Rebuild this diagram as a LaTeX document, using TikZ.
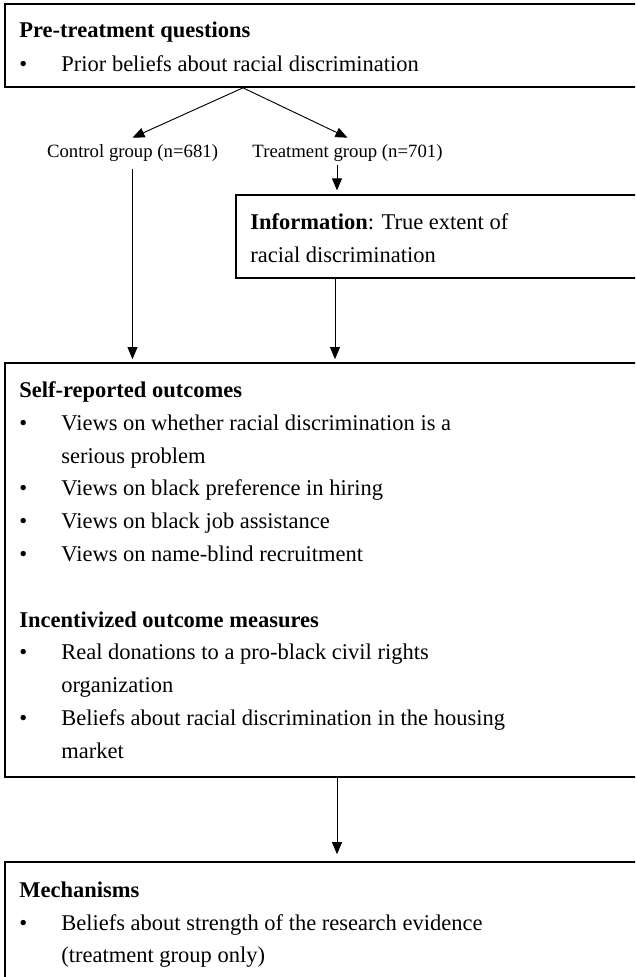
\documentclass[tikz,border=0pt]{standalone}
\usepackage{fontspec}
\setmainfont{Liberation Serif}
\usetikzlibrary{arrows.meta,fit}
\begin{document}
\begin{tikzpicture}[x=0.53333pt,y=-0.53333pt,
  box/.style={draw, line width=0.9pt, inner sep=0pt},
  txt/.style={anchor=base west, inner sep=0pt, font=\fontsize{12pt}{14pt}\selectfont},
  hd/.style={anchor=base west, inner sep=0pt, font=\fontsize{12pt}{14pt}\selectfont\bfseries},
  lbl/.style={anchor=base, inner sep=3.7pt, font=\fontsize{10pt}{12pt}\selectfont},
  arr/.style={-{Triangle[length=6.4pt,width=5.3pt]}, line width=0.5pt}
]
\useasboundingbox (0,0) rectangle (635,977);
\clip (0,0) rectangle (635,977);

% boxes
\node[box, fit={(5,4) (700,87)}] (pre) {};
\node[box, fit={(236,195) (700,278)}] (info) {};
\node[box, fit={(5,363) (700,777)}] (self) {};
\node[box, fit={(5,862) (700,1050)}] (mech) {};

% top box text
\node[hd] (preh) at (19,38) {Pre-treatment questions};
\node[txt] (preb1) at (19,72) {•};
\node[txt] (pret1) at (61,72) {Prior beliefs about racial discrimination};

% group labels
\node[lbl] (ctrl) at (132.5,158) {Control group (n=681)};
\node[lbl] (trt) at (347.5,158) {Treatment group (n=701)};

% information box text
\node[txt] (inf1) at (250,229) {\textbf{Information}: True extent of};
\node[txt] (inf2) at (250,262) {racial discrimination};

% outcomes box text
\node[hd] (selfh) at (19,397) {Self-reported outcomes};
\node[txt] (sb1) at (19,430) {•};
\node[txt] (st1) at (61,430) {Views on whether racial discrimination is a};
\node[txt] (st1b) at (61,463) {serious problem};
\node[txt] (sb2) at (19,495) {•};
\node[txt] (st2) at (61,495) {Views on black preference in hiring};
\node[txt] (sb3) at (19,528) {•};
\node[txt] (st3) at (61,528) {Views on black job assistance};
\node[txt] (sb4) at (19,561) {•};
\node[txt] (st4) at (61,561) {Views on name-blind recruitment};
\node[hd] (inch) at (19,627) {Incentivized outcome measures};
\node[txt] (ib1) at (19,659) {•};
\node[txt] (it1) at (61,659) {Real donations to a pro-black civil rights};
\node[txt] (it1b) at (61,692) {organization};
\node[txt] (ib2) at (19,725) {•};
\node[txt] (it2) at (61,725) {Beliefs about racial discrimination in the housing};
\node[txt] (it2b) at (61,758) {market};

% mechanisms box text
\node[hd] (mechh) at (19,897) {Mechanisms};
\node[txt] (mb1) at (19,930) {•};
\node[txt] (mt1) at (61,930) {Beliefs about strength of the research evidence};
\node[txt] (mt1b) at (61,962) {(treatment group only)};

% connector columns
\coordinate (fork) at (243,0);
\coordinate (colA) at (337,0);
\coordinate (colB) at (335,0);
\coordinate (colC) at (337,0);

% connectors
\draw[arr] (fork |- pre.south) -- (ctrl.north);
\draw[arr] (fork |- pre.south) -- (trt.north);
\draw[arr, shorten >=1.6pt] (ctrl.south) -- (ctrl.south |- self.north);
\draw[arr, shorten <=-2.5pt, shorten >=2pt] (colA |- trt.south) -- (colA |- info.north);
\draw[arr, shorten >=1.6pt] (colB |- info.south) -- (colB |- self.north);
\draw[arr, shorten >=3.7pt] (colC |- self.south) -- (colC |- mech.north);
\end{tikzpicture}
\end{document}
